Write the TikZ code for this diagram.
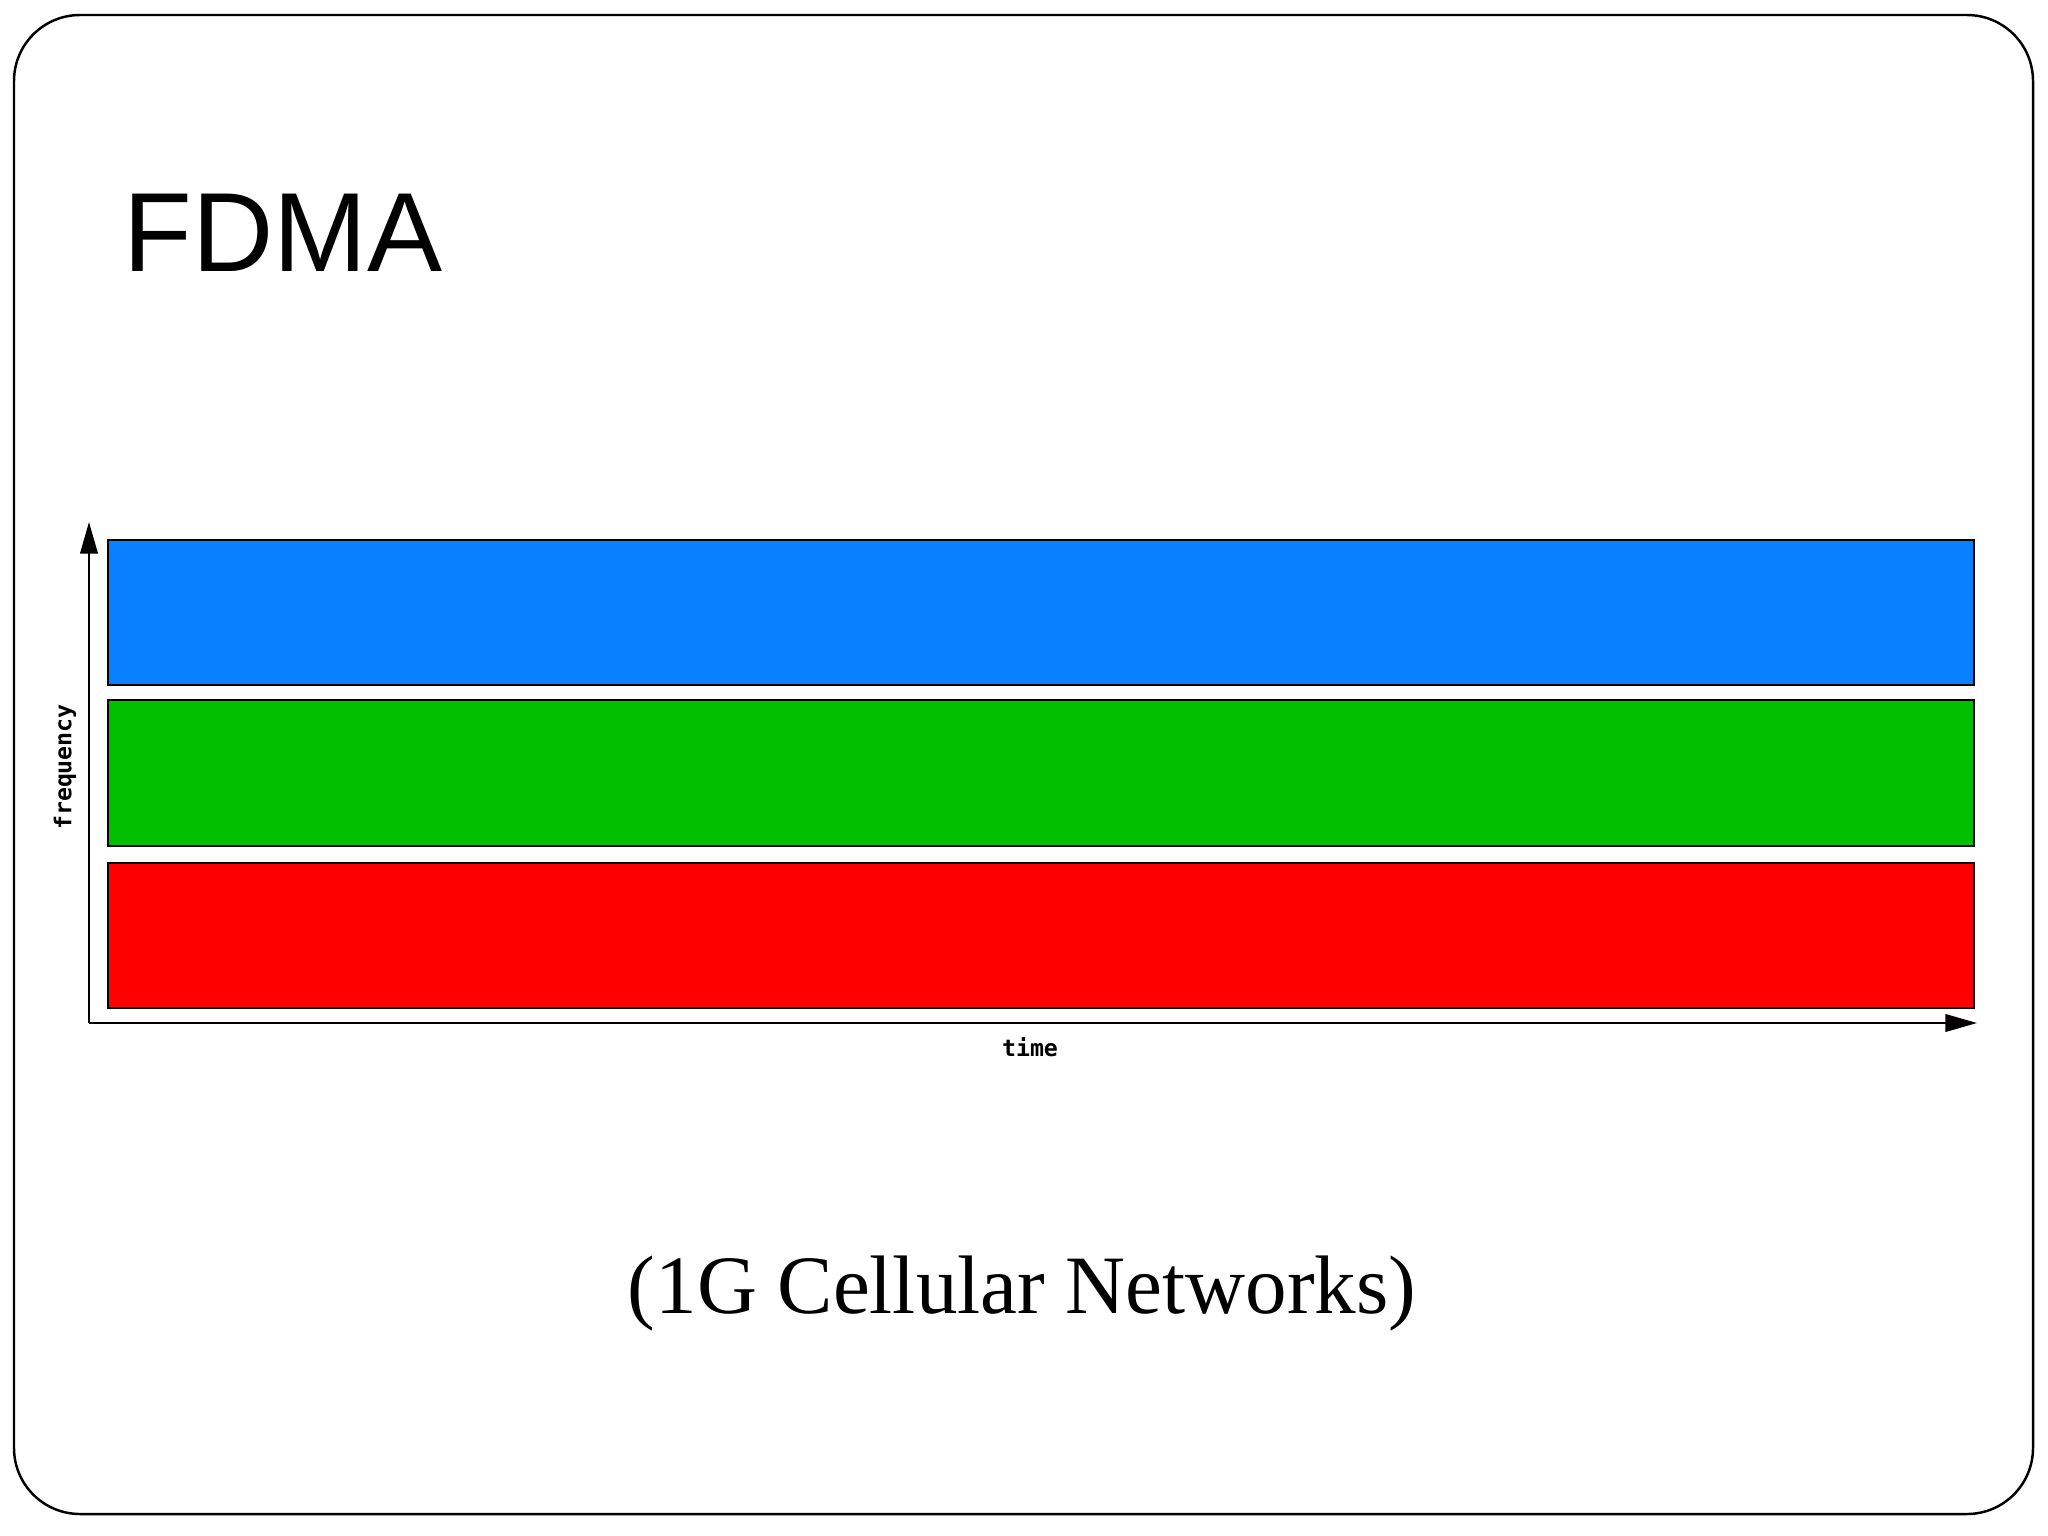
\documentclass[tikz,border=0pt]{standalone}
\usepackage{fontspec}
\setmainfont{Liberation Serif}
\newfontfamily\titlefont{Liberation Sans}
\newfontfamily\axfont{DejaVu Sans Mono}
\usetikzlibrary{arrows.meta}
\definecolor{bandblue}{RGB}{8,128,255}
\definecolor{bandgreen}{RGB}{0,192,0}
\definecolor{bandred}{RGB}{255,0,0}
\tikzset{
  band/.style={draw=black, line width=0.6pt},
  axisline/.style={draw=black, line width=0.6pt, -{Triangle[length=9pt,width=5pt]}},
  axlabel/.style={font=\axfont\bfseries\fontsize{6.6}{7}\selectfont, inner sep=0pt},
  frame/.style={draw=black, line width=0.7pt, rounded corners=0.66cm}
}
\begin{document}
\begin{tikzpicture}[x=0.01cm, y=-0.01cm]
\useasboundingbox (0,0) rectangle (2048,1536);
\path[fill=white] (0,0) rectangle (2048,1536);
\draw[frame] (14,15) rectangle (2033,1514);
% title
\node[anchor=base west, inner sep=0pt, font=\titlefont\fontsize{32}{38}\selectfont] (title) at (123,271) {FDMA};
% bands
\path[band, fill=bandblue] (108,540) rectangle (1974,685);
\path[band, fill=bandgreen] (108,700) rectangle (1974,846);
\path[band, fill=bandred] (108,863) rectangle (1974,1008);
% axes
\coordinate (o) at (89,1023);
\coordinate (ytip) at (89,522);
\coordinate (xtip) at (1977,1023);
\draw[axisline] (o) -- (ytip);
\draw[axisline] (o) -- (xtip);
\node[axlabel] (tlabel) at (1030,1047) {time};
\node[axlabel, rotate=90] (flabel) at (65,767) {frequency};
% subtitle
\node[anchor=base, inner sep=0pt, font=\fontsize{23.6}{28}\selectfont] (sub) at (1022,1313) {(1G Cellular Networks)};
\end{tikzpicture}
\end{document}
